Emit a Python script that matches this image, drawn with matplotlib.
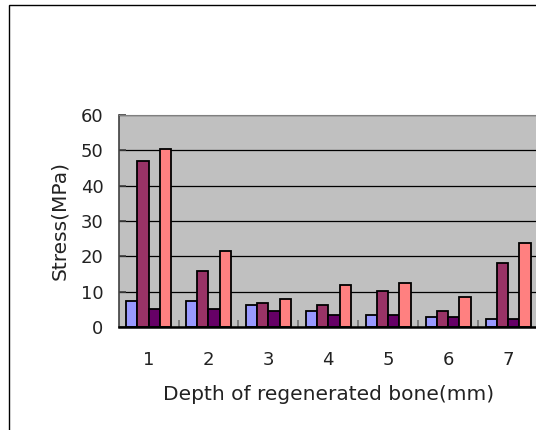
import numpy as np
import matplotlib
matplotlib.use("Agg")
import matplotlib.pyplot as plt
from matplotlib.patches import Rectangle

# data
depths = ["1", "2", "3", "4", "5", "6", "7"]
series_a = [7.4, 7.4, 6.2, 4.5, 3.4, 2.8, 2.3]
series_b = [47.0, 15.8, 6.8, 6.2, 10.2, 4.5, 18.1]
series_c = [5.1, 5.1, 4.5, 3.4, 3.4, 2.8, 2.3]
series_d = [50.4, 21.5, 7.9, 11.9, 12.5, 8.5, 23.8]
colors = ["#9999FF", "#993366", "#660066", "#FF8080"]
y_ticks = [0, 10, 20, 30, 40, 50, 60]

plt.rcParams["font.family"] = ["DejaVu Sans"]

W, H = 536, 430
fig = plt.figure(figsize=(W / 100, H / 100), dpi=100)
fig.patch.set_facecolor("white")

# outer chart frame (right/bottom lie outside the picture)
fig.patches.append(Rectangle((8.5 / W, -0.1), 1.2, (H - 5) / H + 0.1,
                             transform=fig.transFigure, fill=False,
                             edgecolor="black", linewidth=1.0, clip_on=False))

ax = fig.add_axes([118.6 / W, (H - 327) / H, (538 - 118.6) / W, (327 - 115) / H])
ax.set_facecolor("#C0C0C0")

x = np.arange(1, len(depths) + 1)
w = 0.1875
all_series = [series_a, series_b, series_c, series_d]
for i, (vals, c) in enumerate(zip(all_series, colors)):
    ax.bar(x + (i - 1.5) * w, vals, width=w, color=c, edgecolor="black",
           linewidth=1.3, zorder=3)

ax.set_xlim(0.5, len(depths) + 0.5)
ax.set_ylim(0, 60)
ax.set_yticks(y_ticks)
ax.set_yticklabels([str(t) for t in y_ticks], fontsize=13, color="#222222")
ax.yaxis.grid(True, color="black", linewidth=0.9, zorder=1)
ax.set_axisbelow(True)

ax.set_xticks(x)
ax.set_xticklabels(depths, fontsize=13, color="#222222")
ax.set_xticks(np.arange(1.5, len(depths) + 0.5, 1), minor=True)
ax.tick_params(axis="x", which="major", length=0, pad=17)
ax.tick_params(axis="x", which="minor", direction="in", length=5,
               color="#707070", width=1.2)
ax.tick_params(axis="y", direction="in", length=5, color="#404040",
               width=1.2, pad=11)

ax.spines["right"].set_visible(False)
ax.spines["top"].set_color("#808080")
ax.spines["left"].set_color("#404040")
ax.spines["left"].set_linewidth(1.2)
ax.spines["bottom"].set_color("black")
ax.spines["bottom"].set_linewidth(1.8)
ax.spines["bottom"].set_zorder(4)

ax.set_xlabel("Depth of regenerated bone(mm)", fontsize=14.5,
              labelpad=12, color="#222222")
ax.set_ylabel("Stress(MPa)", fontsize=14.5, labelpad=8, color="#222222")

fig.savefig("out.png", dpi=100)
